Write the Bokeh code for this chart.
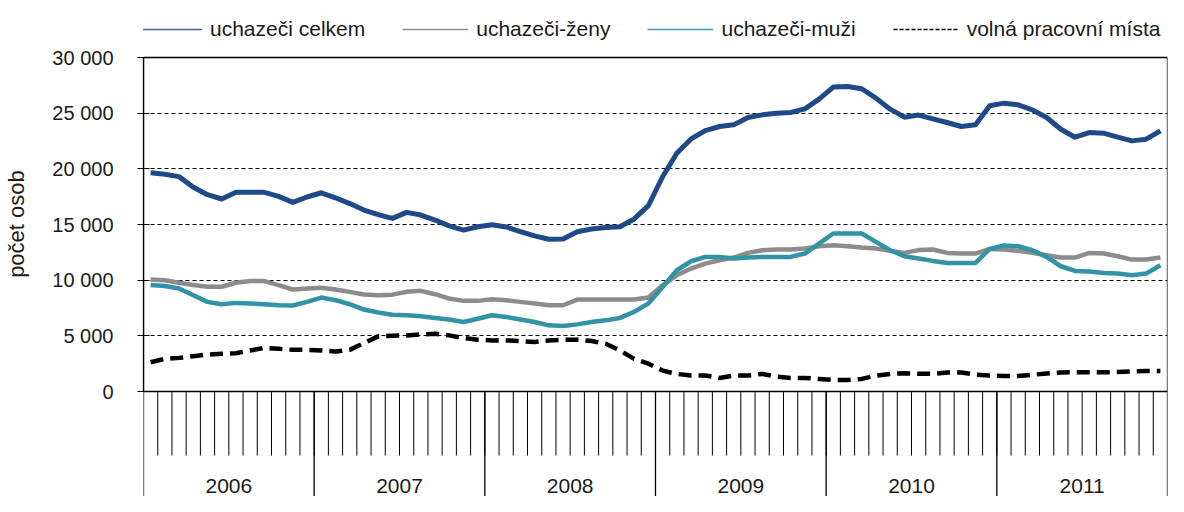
from bokeh.plotting import figure
from bokeh.models import Range1d, FixedTicker, Span, Legend, LegendItem
from bokeh.core.properties import value
from bokeh.embed import file_html
from bokeh.resources import INLINE

# ---------------- data ----------------
years = ["2006", "2007", "2008", "2009", "2010", "2011"]

celkem = [19640, 19520, 19300, 18350, 17680, 17290, 17890, 17900, 17890, 17530, 16990, 17470,
          17850, 17400, 16880, 16300, 15880, 15550, 16090, 15850, 15400, 14880, 14500, 14800,
          14970, 14780, 14370, 13980, 13680, 13700, 14350, 14600, 14730, 14800, 15500, 16700,
          19290, 21400, 22690, 23440, 23800, 23950, 24610, 24850, 25000, 25060, 25390, 26260,
          27340, 27400, 27190, 26350, 25360, 24640, 24830, 24490, 24160, 23800, 23950, 25660,
          25900, 25750, 25300, 24610, 23560, 22840, 23260, 23200, 22840, 22510, 22660, 23410]

zeny = [10070, 10000, 9770, 9560, 9410, 9410, 9770, 9920, 9920, 9560, 9160, 9250,
        9310, 9160, 8950, 8710, 8650, 8700, 8950, 9040, 8740, 8350, 8140, 8140,
        8290, 8200, 8050, 7900, 7750, 7750, 8260, 8260, 8260, 8260, 8260, 8450,
        9540, 10440, 11040, 11490, 11790, 12030, 12450, 12690, 12750, 12750, 12840, 13050,
        13140, 13050, 12930, 12840, 12630, 12450, 12700, 12750, 12450, 12390, 12390, 12810,
        12750, 12630, 12450, 12240, 12030, 12030, 12450, 12390, 12150, 11850, 11850, 12030]

muzi = [9560, 9470, 9250, 8650, 8050, 7840, 7960, 7900, 7840, 7750, 7720, 8050,
        8440, 8200, 7840, 7360, 7090, 6900, 6850, 6760, 6610, 6460, 6240, 6540,
        6850, 6700, 6460, 6240, 5940, 5880, 6030, 6240, 6390, 6610, 7150, 7900,
        9380, 10890, 11700, 12090, 12090, 11940, 12030, 12090, 12090, 12090, 12390, 13290,
        14190, 14190, 14190, 13440, 12690, 12150, 11950, 11730, 11550, 11550, 11550, 12810,
        13110, 13050, 12690, 12090, 11250, 10830, 10770, 10650, 10590, 10440, 10590, 11340]

volna = [2630, 2930, 3020, 3170, 3320, 3380, 3440, 3680, 3920, 3830, 3740, 3740,
         3680, 3590, 3740, 4350, 4950, 5000, 5040, 5130, 5190, 5040, 4800, 4650,
         4590, 4590, 4530, 4440, 4590, 4650, 4650, 4530, 4290, 3690, 2930, 2500,
         1880, 1580, 1430, 1430, 1220, 1430, 1430, 1580, 1340, 1220, 1220, 1130,
         1040, 1040, 1130, 1430, 1580, 1640, 1600, 1580, 1700, 1700, 1520, 1430,
         1400, 1400, 1500, 1620, 1700, 1730, 1730, 1730, 1750, 1800, 1850, 1850]

series_labels = ["uchazeči celkem", "uchazeči-ženy", "uchazeči-muži", "volná pracovní místa"]
y_ticks = [0, 5000, 10000, 15000, 20000, 25000, 30000]
y_tick_labels = ["0", "5 000", "10 000", "15 000", "20 000", "25 000", "30 000"]
y_title = "počet osob"

# ---------------- layout constants (pixels) ----------------
FONT = "Liberation Sans"
W, H = 1168, 496
LEFT_PX = 143
TOP_PX = 57                      # legend strip above the 0..30000 area
FRAME_W = 1024
PLOT_PX = 334                    # height of the 0..30000 area
BELOW_PX = H - TOP_PX - PLOT_PX  # month / year band under it
YMAX = y_ticks[-1]
upp = YMAX / PLOT_PX
ymin = -BELOW_PX * upp
ytop = YMAX + TOP_PX * upp

n = len(celkem)
xs = [i + 0.5 for i in range(n)]
NAN = float("nan")

p = figure(width=W, height=H,
           output_backend="svg", toolbar_location=None,
           x_range=Range1d(0, n), y_range=Range1d(ymin, ytop),
           x_axis_location=None,
           min_border_left=LEFT_PX, min_border_right=W - LEFT_PX - FRAME_W,
           min_border_top=0, min_border_bottom=0)
p.outline_line_color = None
p.background_fill_color = "white"
p.border_fill_color = "white"

# y axis
ax = p.yaxis[0]
ax.ticker = FixedTicker(ticks=y_ticks)
ax.major_label_overrides = {t: l for t, l in zip(y_ticks, y_tick_labels)}
ax.bounds = (0, YMAX)
ax.major_tick_in = 6
ax.major_tick_out = 6
ax.minor_tick_line_color = None
ax.axis_line_color = "black"
ax.axis_line_width = 1.3
ax.major_tick_line_color = "black"
ax.major_label_text_font = FONT
ax.major_label_text_font_size = "20px"
ax.major_label_text_color = "#1a1a1a"
ax.major_label_standoff = 24
# the axis label is centred on the whole frame (legend strip + plot + month band);
# leading no-break spaces move the visible words to the middle of the 0..30000 area
pad = "\u00a0" * 8
ax.axis_label = pad + y_title
ax.axis_label_text_font = FONT
ax.axis_label_text_font_size = "22px"
ax.axis_label_text_font_style = "normal"
ax.axis_label_text_color = "#1a1a1a"
ax.axis_label_standoff = 20

# grid
p.xgrid.visible = False
p.ygrid[0].ticker = FixedTicker(ticks=y_ticks[1:-1])
p.ygrid.grid_line_color = "black"
p.ygrid.grid_line_width = 1
p.ygrid.grid_line_dash = "4 3"

# frame lines: top and zero line across, left and right edges from the top down
p.add_layout(Span(location=YMAX, dimension="width", line_color="black", line_width=1.3))
p.add_layout(Span(location=0, dimension="width", line_color="black", line_width=1.3))
p.segment(x0=[0, n], y0=[YMAX, YMAX], x1=[0, n], y1=[ymin, ymin],
          line_color="black", line_width=1.3)

# month ticks and year separators
tick_end = -64 * upp
mb = list(range(1, n))
p.segment(x0=mb, y0=[0] * len(mb), x1=mb, y1=[tick_end] * len(mb),
          line_color="black", line_width=1)
yb = [12 * (k + 1) for k in range(len(years) - 1)]
p.segment(x0=yb, y0=[0] * len(yb), x1=yb, y1=[ymin] * len(yb),
          line_color="black", line_width=1.3)
p.text(x=[12 * k + 6 for k in range(len(years))], y=[ymin + 11 * upp] * len(years),
       text=years, text_align="center", text_baseline="middle",
       text_font=value(FONT), text_font_size="21px", text_color="#1a1a1a")

# data lines
c_blue = "#1f4a8a"
c_gray = "#8c8c8c"
c_teal = "#3292a6"
p.line(xs, volna, line_color="black", line_width=4.5, line_dash="13 7")
p.line(xs, zeny, line_color=c_gray, line_width=4.5, line_join="round")
p.line(xs, muzi, line_color=c_teal, line_width=4.5, line_join="round")
p.line(xs, celkem, line_color=c_blue, line_width=5, line_join="round")

# legend with thin sample lines (renderers that draw nothing in the plot)
r1 = p.line([0, 1], [NAN, NAN], line_color="#3f67a0", line_width=1.5)
r2 = p.line([0, 1], [NAN, NAN], line_color="#8c8c8c", line_width=1.5)
r3 = p.line([0, 1], [NAN, NAN], line_color="#3f9ab0", line_width=1.5)
r4 = p.line([0, 1], [NAN, NAN], line_color="black", line_width=1.5, line_dash="4 2")
legend = Legend(items=[LegendItem(label=series_labels[0], renderers=[r1]),
                       LegendItem(label=series_labels[1], renderers=[r2]),
                       LegendItem(label=series_labels[2], renderers=[r3]),
                       LegendItem(label=series_labels[3], renderers=[r4])],
                orientation="horizontal",
                location=(136 - LEFT_PX, H - 41),
                glyph_width=66, glyph_height=20, label_standoff=8, spacing=37,
                padding=0, margin=0, border_line_color=None,
                background_fill_alpha=0,
                label_text_font=FONT, label_text_font_size="21px",
                label_text_color="#1a1a1a")
p.add_layout(legend)

open("out.html", "w").write(file_html(p, INLINE))
